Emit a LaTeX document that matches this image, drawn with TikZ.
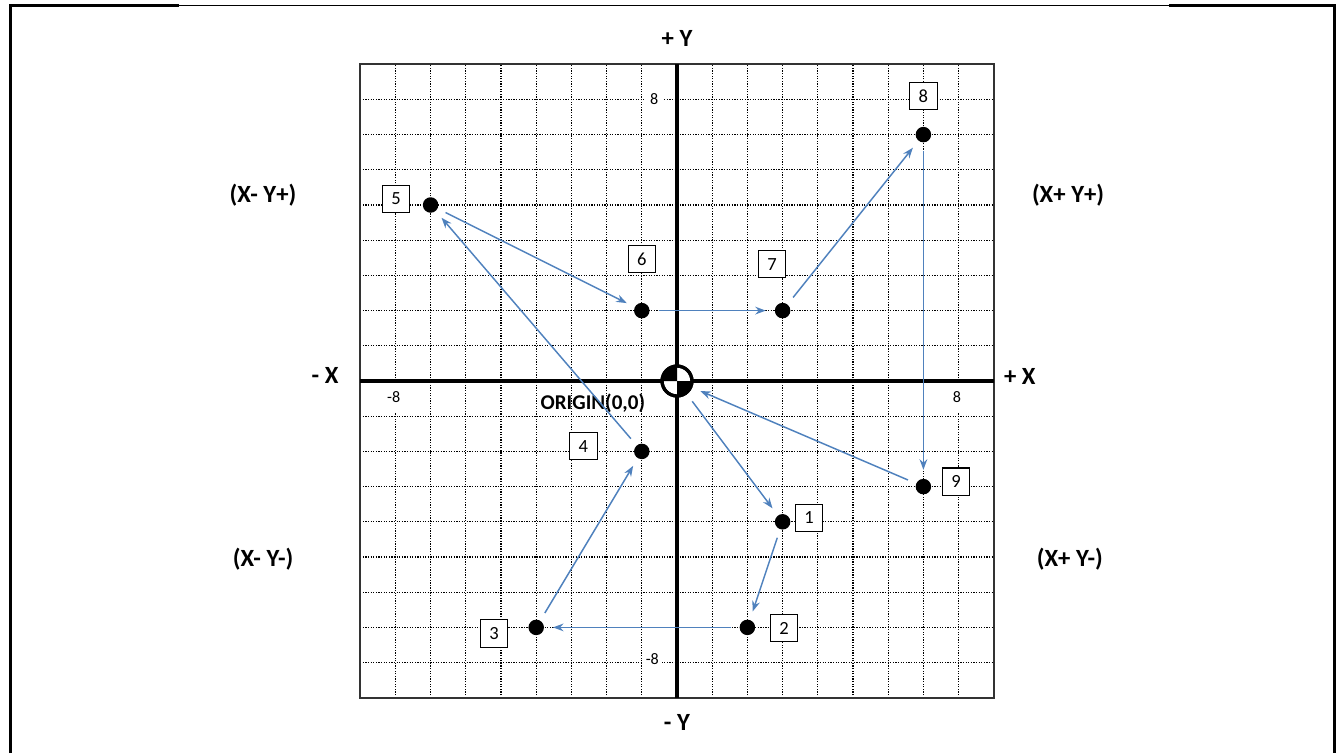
\documentclass[tikz,border=0pt]{standalone}
\usepackage{fontspec}
\setmainfont{Carlito}
\usepackage{xcolor}
\definecolor{planBleu}{HTML}{4F81BD}
\definecolor{planCadre}{HTML}{333333}
\usepackage{tikz}
\usetikzlibrary{arrows.meta, positioning}
\tikzset{
  %% ── Points ───────────────────────────────────────────────────────────
  %% A point is a plain black dot; its number sits beside it in a box.
  pointNoir/.style  = {circle, fill=black, inner sep=0pt, minimum size=4.4mm},
  caseNum/.style    = {draw=black, line width=0.9pt, fill=white,
                       minimum size=7.8mm, inner sep=0pt,
                       font=\fontsize{15}{15}\selectfont},
  %%
  %% ── Arrows ───────────────────────────────────────────────────────────
  fleche/.style     = {-{Stealth[length=3mm, width=2.2mm]}, draw=planBleu,
                       line width=1.2pt, shorten <=2.5mm, shorten >=2.5mm},
  %%
  %% ── Text ─────────────────────────────────────────────────────────────
  %% A graduation sits on the grid, so it carries an opaque fill.
  titreAxe/.style   = {font=\fontsize{20}{20}\selectfont\bfseries, inner sep=1pt},
  graduation/.style = {font=\fontsize{13}{13}\selectfont, fill=white,
                       inner sep=0pt, minimum width=5.6mm, minimum height=8mm},
  grille/.style     = {line width=1pt, dash pattern=on 1pt off 1.1pt},
}

\begin{document}
\begin{tikzpicture}[x=1cm, y=1cm]
\useasboundingbox (-19.233,-10.568) rectangle (18.75,10.824);

%% page frame
\draw[line width=0.8pt] (-18.93,10.68) -- (18.68,10.68);
\draw[line width=2.4pt] (-18.93,-10.568) -- (-18.93,10.68) -- (-14.15,10.68);
\draw[line width=2.4pt] (13.98,10.68) -- (18.68,10.68) -- (18.68,-10.568);

%% grid and graduations
\draw[grille] (-9,-9) grid (9,9);
\node[graduation] (gHaut) at (-0.65, 8.0) {8};
\node[graduation] (gBas) at (-0.7, -7.9) {-8};
\node[graduation] (gGauche) at (-8.05, -0.47) {-8};
\node[graduation] (gDroite) at (7.95, -0.47) {8};
\draw[line width=1.4pt, draw=planCadre] (-9,-9) rectangle (9,9);
\draw[line width=2.8pt] (-9,0) -- (9,0);
\draw[line width=2.8pt] (0,-9) -- (0,9);

%% axis and quadrant titles
\node[titreAxe] (yPlus) at (0, 9.74) {+ Y};
\node[titreAxe] (yMoins) at (0, -9.69) {- Y};
\node[titreAxe] (xMoins) at (-10.0, 0.17) {- X};
\node[titreAxe] (xPlus) at (9.74, 0.14) {+ X};
\node[titreAxe] (qMP) at (-11.76, 5.28) {(X- Y+)};
\node[titreAxe] (qPP) at (11.11, 5.28) {(X+ Y+)};
\node[titreAxe] (qMM) at (-11.76, -5.06) {(X- Y-)};
\node[titreAxe] (qPM) at (11.16, -5.06) {(X+ Y-)};
\node[font=\fontsize{17}{17}\selectfont\bfseries, inner sep=0pt] (lblOrig) at (-2.39, -0.62) {ORIGIN(0,0)};

%% origin mark
\node[circle, draw=black, fill=white, line width=2.6pt, minimum size=8.5mm,
      inner sep=0pt] (orig) at (0,0) {};
\fill (0,0) -- (-0.425,0) arc[start angle=180, end angle=90, radius=0.425] -- cycle;
\fill (0,0) -- (0.425,0) arc[start angle=0, end angle=-90, radius=0.425] -- cycle;
\draw[line width=2.6pt] (orig) circle[radius=0.425];

%% points
\node[pointNoir] (p1) at (3,-4) {};
\node[pointNoir] (p2) at (2,-7) {};
\node[pointNoir] (p3) at (-4,-7) {};
\node[pointNoir] (p4) at (-1,-2) {};
\node[pointNoir] (p5) at (-7,5) {};
\node[pointNoir] (p6) at (-1,2) {};
\node[pointNoir] (p7) at (3,2) {};
\node[pointNoir] (p8) at (7,7) {};
\node[pointNoir] (p9) at (7,-3) {};

\node[caseNum] (n1) at (3.75, -3.89) {1};
\node[caseNum] (n2) at (3.04, -7.02) {2};
\node[caseNum] (n3) at (-5.2, -7.17) {3};
\node[caseNum] (n4) at (-2.66, -1.85) {4};
\node[caseNum] (n5) at (-7.98, 5.17) {5};
\node[caseNum] (n6) at (-1.0, 3.47) {6};
\node[caseNum] (n7) at (2.7, 3.32) {7};
\node[caseNum] (n8) at (7.0, 8.1) {8};
\node[caseNum] (n9) at (7.93, -2.86) {9};

\draw[fleche] (orig) -- (p1);
\draw[fleche] (p1) -- (p2);
\draw[fleche] (p2) -- (p3);
\draw[fleche] (p3) -- (p4);
\draw[fleche] (p4) -- (p5);
\draw[fleche] (p5) -- (p6);
\draw[fleche] (p6) -- (p7);
\draw[fleche] (p7) -- (p8);
\draw[fleche] (p8) -- (p9);
\draw[fleche] (p9) -- (orig);

\end{tikzpicture}
\end{document}
